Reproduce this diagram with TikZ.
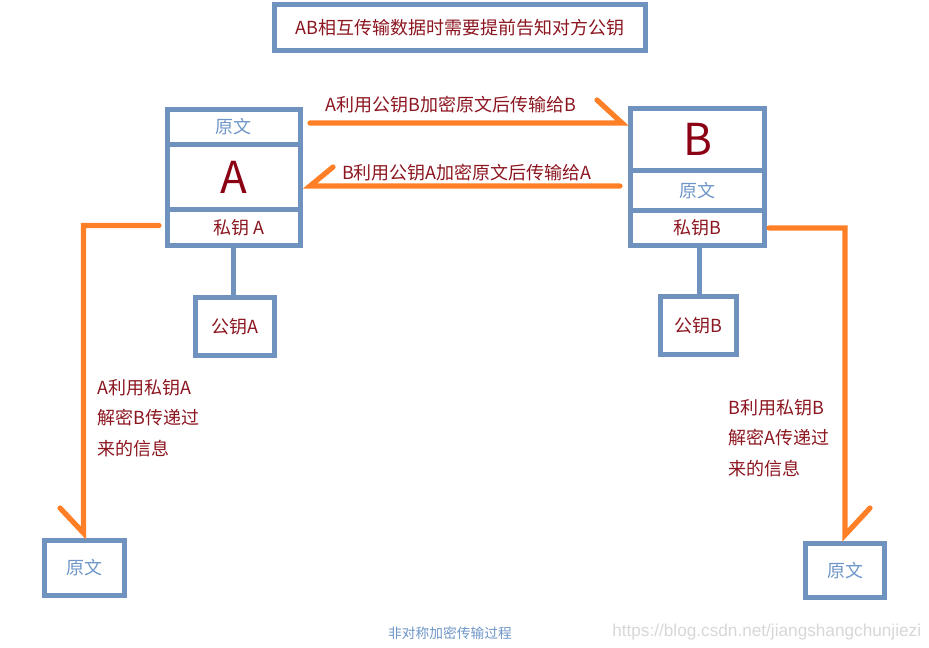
\documentclass[tikz,border=0pt]{standalone}
\usepackage{fontspec}
\setmainfont{Noto Sans CJK SC}
\newfontfamily\wmfont{Liberation Sans}
\definecolor{boxblue}{RGB}{112,146,190}
\definecolor{arrorange}{RGB}{255,127,39}
\definecolor{txtred}{RGB}{140,22,32}
\definecolor{bigred}{RGB}{140,0,20}
\definecolor{ltblue}{RGB}{110,150,200}
\definecolor{wmgray}{RGB}{215,215,215}
\begin{document}
\begin{tikzpicture}[x=0.75pt,y=-0.75pt,
  bx/.style={draw=boxblue,line width=3.75pt,inner sep=0pt,fill=white},
  lbl/.style={text=txtred,font=\fontsize{13.5}{16}\selectfont},
  orig/.style={text=ltblue,font=\fontsize{13.5}{16}\selectfont},
  big/.style={text=bigred,font=\fontsize{33}{36}\selectfont},
  flow/.style={draw=arrorange,line width=3.9pt,line cap=round,line join=miter},
  side/.style={text=txtred,font=\fontsize{13.5}{16}\selectfont,align=left,anchor=west,inner sep=0pt}]
\useasboundingbox (0,0) rectangle (929,647);
% title
\node[bx,lbl,minimum width=371.5*0.75pt,minimum height=45.5*0.75pt] (title) at (460,27.25) {AB相互传输数据时需要提前告知对方公钥};
% box A
\node[bx,orig,minimum width=132.5*0.75pt,minimum height=35.5*0.75pt] (a1) at (233.75,126.75) {原文};
\node[bx,big,minimum width=132.5*0.75pt,minimum height=65*0.75pt] (a2) at (233.75,177) {A};
\node[bx,lbl,minimum width=132.5*0.75pt,minimum height=36*0.75pt] (a3) at (233.75,227.5) {\hspace{8pt}私钥 A};
% box B
\node[bx,big,minimum width=134*0.75pt,minimum height=62.5*0.75pt] (b1) at (697.5,139.25) {B};
\node[bx,orig,minimum width=134*0.75pt,minimum height=40*0.75pt] (b2) at (697.5,190.5) {原文};
\node[bx,lbl,minimum width=134*0.75pt,minimum height=35*0.75pt] (b3) at (697.5,228) {私钥B};
% public keys
\node[bx,lbl,minimum width=79*0.75pt,minimum height=58*0.75pt] (pa) at (235,326.5) {公钥A};
\node[bx,lbl,minimum width=75.5*0.75pt,minimum height=58.5*0.75pt] (pb) at (698.25,325.25) {公钥B};
% plaintext boxes
\node[bx,orig,minimum width=80*0.75pt,minimum height=55*0.75pt] (oa) at (84.5,568) {原文};
\node[bx,orig,minimum width=79*0.75pt,minimum height=54.5*0.75pt] (ob) at (845,570.25) {原文};
% key links
\draw[boxblue,line width=3.75pt] (a3.south) -- (a3.south |- pa.north);
\draw[boxblue,line width=3.75pt] ([xshift=1.5pt]b3.south) -- ([xshift=1.5pt]b3.south |- pb.north);
% arrows between A and B
\coordinate (t1) at (310,123);
\coordinate (t2) at (622,123);
\coordinate (u1) at (620,186);
\coordinate (u2) at (310,186);
\draw[flow] (t1) -- (t2) -- ++(-25,-23);
\draw[flow] (u1) -- (u2) -- ++(23,-19);
\node[lbl] (lt) at (451,105) {A利用公钥B加密原文后传输给B};
\node[lbl] (lu) at (467,173) {B利用公钥A加密原文后传输给A};
% decryption flows
\coordinate (da) at (83.5,533);
\coordinate (db) at (845,535);
\draw[flow] ([xshift=-4.5pt,yshift=1.5pt]a3.west) -| (da) -- ++(-23.5,-25);
\draw[flow] ([xshift=1.5pt]b3.east) -| (db) -- ++(25,-27);
\node[side] (sa) at (97,418) {A利用私钥A\\[7pt]解密B传递过\\[7pt]来的信息};
\node[side] (sb) at (728,438) {B利用私钥B\\[7pt]解密A传递过\\[7pt]来的信息};
% caption and watermark
\node[text=ltblue,font=\fontsize{10.3}{12}\selectfont] (cap) at (450,633) {非对称加密传输过程};
\node[text=wmgray,font=\wmfont\fontsize{12.9}{14}\selectfont,anchor=west,inner sep=0pt] (wm) at (612,632) {https://blog.csdn.net/jiangshangchunjiezi};
\end{tikzpicture}
\end{document}
